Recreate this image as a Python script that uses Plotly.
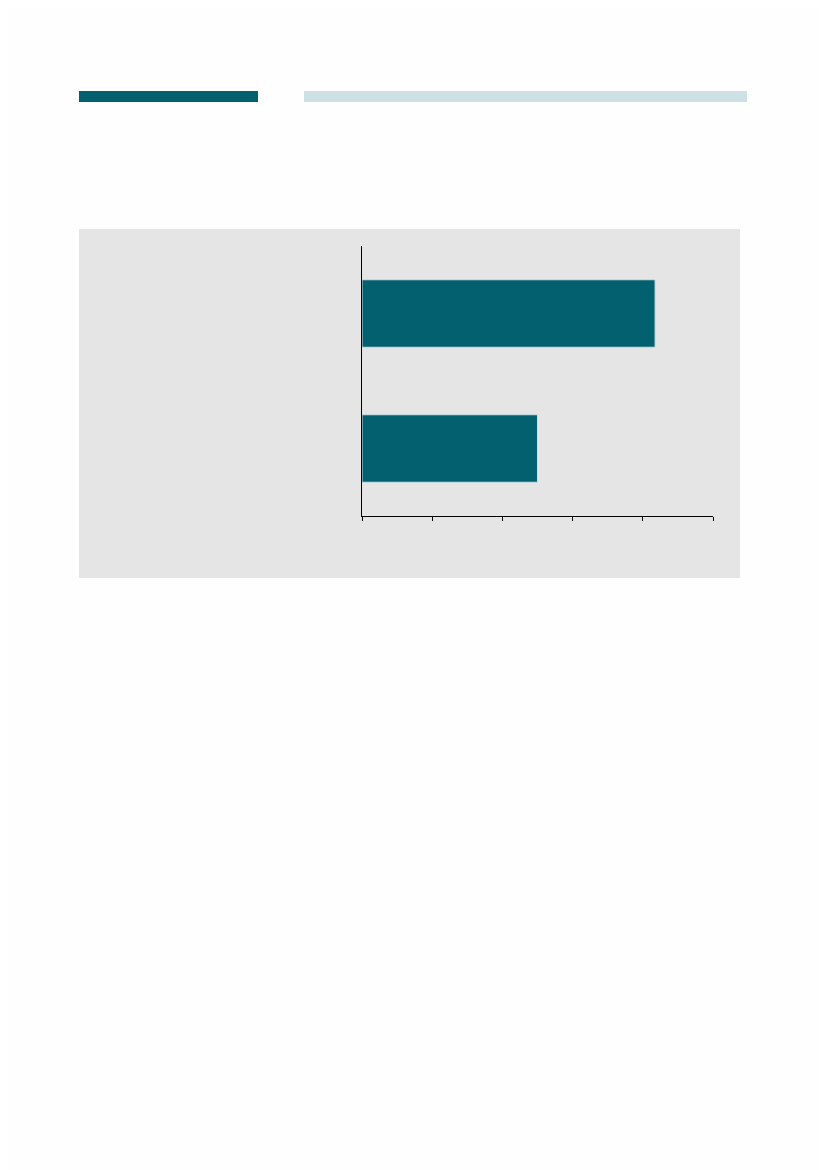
import plotly.graph_objects as go

# data (no labels are printed in the source)
categories = ['B', 'A']
values = [50, 83.5]

OFF = 8  # browser body margin
W, H = 827 - OFF, 1170 - OFF
# plot area in page pixels
L, R, T, B = 362, 713, 246, 516


def px(x0, y0, x1, y1):
    # page pixel box -> paper coords of the plot area
    return dict(x0=(x0 - L) / (R - L), x1=(x1 - L) / (R - L),
                y0=(B - y0) / (B - T), y1=(B - y1) / (B - T))


teal = '#02606f'

fig = go.Figure(go.Bar(
    x=values,
    y=categories,
    orientation='h',
    width=0.5,
    marker=dict(color=teal, line=dict(color='#cde0e4', width=1)),
    hoverinfo='skip'
))

shapes = [
    dict(type='rect', xref='paper', yref='paper', layer='below',
         fillcolor='#e5e5e5', line=dict(width=0), **px(79, 229, 740, 578)),
    dict(type='rect', xref='paper', yref='paper',
         fillcolor=teal, line=dict(width=0), **px(79, 91, 258, 102)),
    dict(type='rect', xref='paper', yref='paper',
         fillcolor='#cde0e4', line=dict(width=0), **px(304, 91, 747, 102)),
]

fig.update_layout(
    width=W,
    height=H,
    margin=dict(l=L - OFF, r=W - (R - OFF), t=T - OFF, b=H - (B - OFF), pad=0),
    paper_bgcolor='#fefefe',
    plot_bgcolor='rgba(0,0,0,0)',
    showlegend=False,
    shapes=shapes,
    bargap=0.5,
    xaxis=dict(range=[0, 100], dtick=20, showgrid=False, zeroline=False,
               showline=True, linecolor='black', linewidth=1,
               ticks='outside', ticklen=4, tickcolor='black',
               showticklabels=False),
    yaxis=dict(range=[-0.5, 1.5], showgrid=False, zeroline=False,
               showline=True, linecolor='black', linewidth=1,
               ticks='', showticklabels=False),
)

fig.write_html("out.html")
